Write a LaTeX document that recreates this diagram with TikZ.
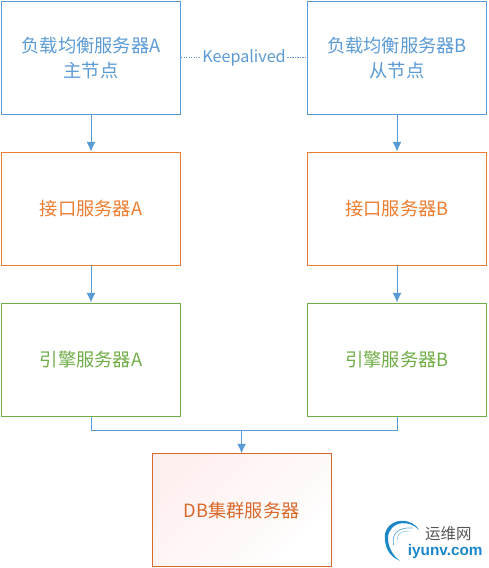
\documentclass[tikz,border=0pt]{standalone}
\usepackage{fontspec}
\setmainfont{Noto Sans CJK SC}
\newfontfamily\logofont{Liberation Sans}
\usepackage{tikz}
\usetikzlibrary{positioning, arrows.meta, calc}
\definecolor{lbblue}{HTML}{5B9BD5}
\definecolor{apiorange}{HTML}{ED7D31}
\definecolor{enggreen}{HTML}{70AD47}
\definecolor{dborange}{HTML}{D9692B}
\definecolor{logoblue}{HTML}{1B87C9}
\definecolor{logogray}{HTML}{555555}
\begin{document}
\begin{tikzpicture}[
  box/.style={draw, minimum width=4.475cm, minimum height=2.825cm, align=center,
              font=\fontsize{13}{17.7}\selectfont, inner sep=2pt, line width=0.7pt},
  lbbox/.style={box, draw=lbblue, text=lbblue},
  apibox/.style={box, draw=apiorange, text=apiorange},
  engbox/.style={box, draw=enggreen, text=enggreen},
  dbbox/.style={box, draw=dborange, text=dborange, top color=red!6, bottom color=white, shading angle=45},
  arr/.style={-{Latex[length=2.4mm,width=2.2mm]}, lbblue, line width=0.7pt},
  lnk/.style={lbblue, line width=0.7pt},
  node distance=0.925cm]
  \useasboundingbox (0,0) rectangle (12.2,-14.2);
  % left column
  \node[lbbox] (lba) at (2.275,-1.44) {负载均衡服务器A\\主节点};
  \node[apibox, below=of lba] (apia) {接口服务器A};
  \node[engbox, below=of apia] (enga) {引擎服务器A};
  % right column
  \node[lbbox] (lbb) at (9.925,-1.44) {负载均衡服务器B\\从节点};
  \node[apibox, below=of lbb] (apib) {接口服务器B};
  \node[engbox, below=of apib] (engb) {引擎服务器B};
  % db
  \node[dbbox] (db) at (6.04,-12.76) {DB集群服务器};
  \coordinate (mrg) at (db.north |- 0,-10.75);
  \draw[arr] (lba)--(apia); \draw[arr] (apia)--(enga);
  \draw[arr] (lbb)--(apib); \draw[arr] (apib)--(engb);
  \draw[lnk] (enga.south) |- (mrg); \draw[lnk] (engb.south) |- (mrg);
  \draw[arr] (mrg)--(db.north);
  % heartbeat
  \draw[lnk, dash pattern=on 0.9pt off 0.9pt] (lba) -- node[fill=white, text=lbblue, inner sep=1pt, font=\fontsize{11.5}{13}\selectfont] (ka) {Keepalived} (lbb);
  % watermark
  \fill[logoblue] (10,-14.02) .. controls (9.7,-13.9) and (9.62,-13.65) .. (9.62,-13.42)
    .. controls (9.62,-13.2) and (9.8,-13.02) .. (10.05,-13.02)
    .. controls (10.25,-13.02) and (10.4,-13.12) .. (10.48,-13.25)
    .. controls (10.35,-13.12) and (10.2,-13.07) .. (10.05,-13.08)
    .. controls (9.85,-13.1) and (9.7,-13.25) .. (9.7,-13.45)
    .. controls (9.7,-13.65) and (9.8,-13.88) .. cycle;
  \draw[logoblue!70, line width=0.5pt] (9.84,-13.62) .. controls (9.78,-13.35) and (9.95,-13.17) .. (10.32,-13.2);
  \draw[logoblue!45, line width=0.4pt] (9.93,-13.5) .. controls (9.92,-13.35) and (10.03,-13.27) .. (10.25,-13.28);
  \node[text=logogray, inner sep=0pt, font=\fontsize{11}{12}\selectfont] (wm) at (11.21,-13.35) {运维网};
  \node[text=logoblue, inner sep=0pt, font=\logofont\fontsize{10.9}{11}\selectfont\bfseries] (wu) at (11.13,-13.8) {iyunv.com};
\end{tikzpicture}
\end{document}
